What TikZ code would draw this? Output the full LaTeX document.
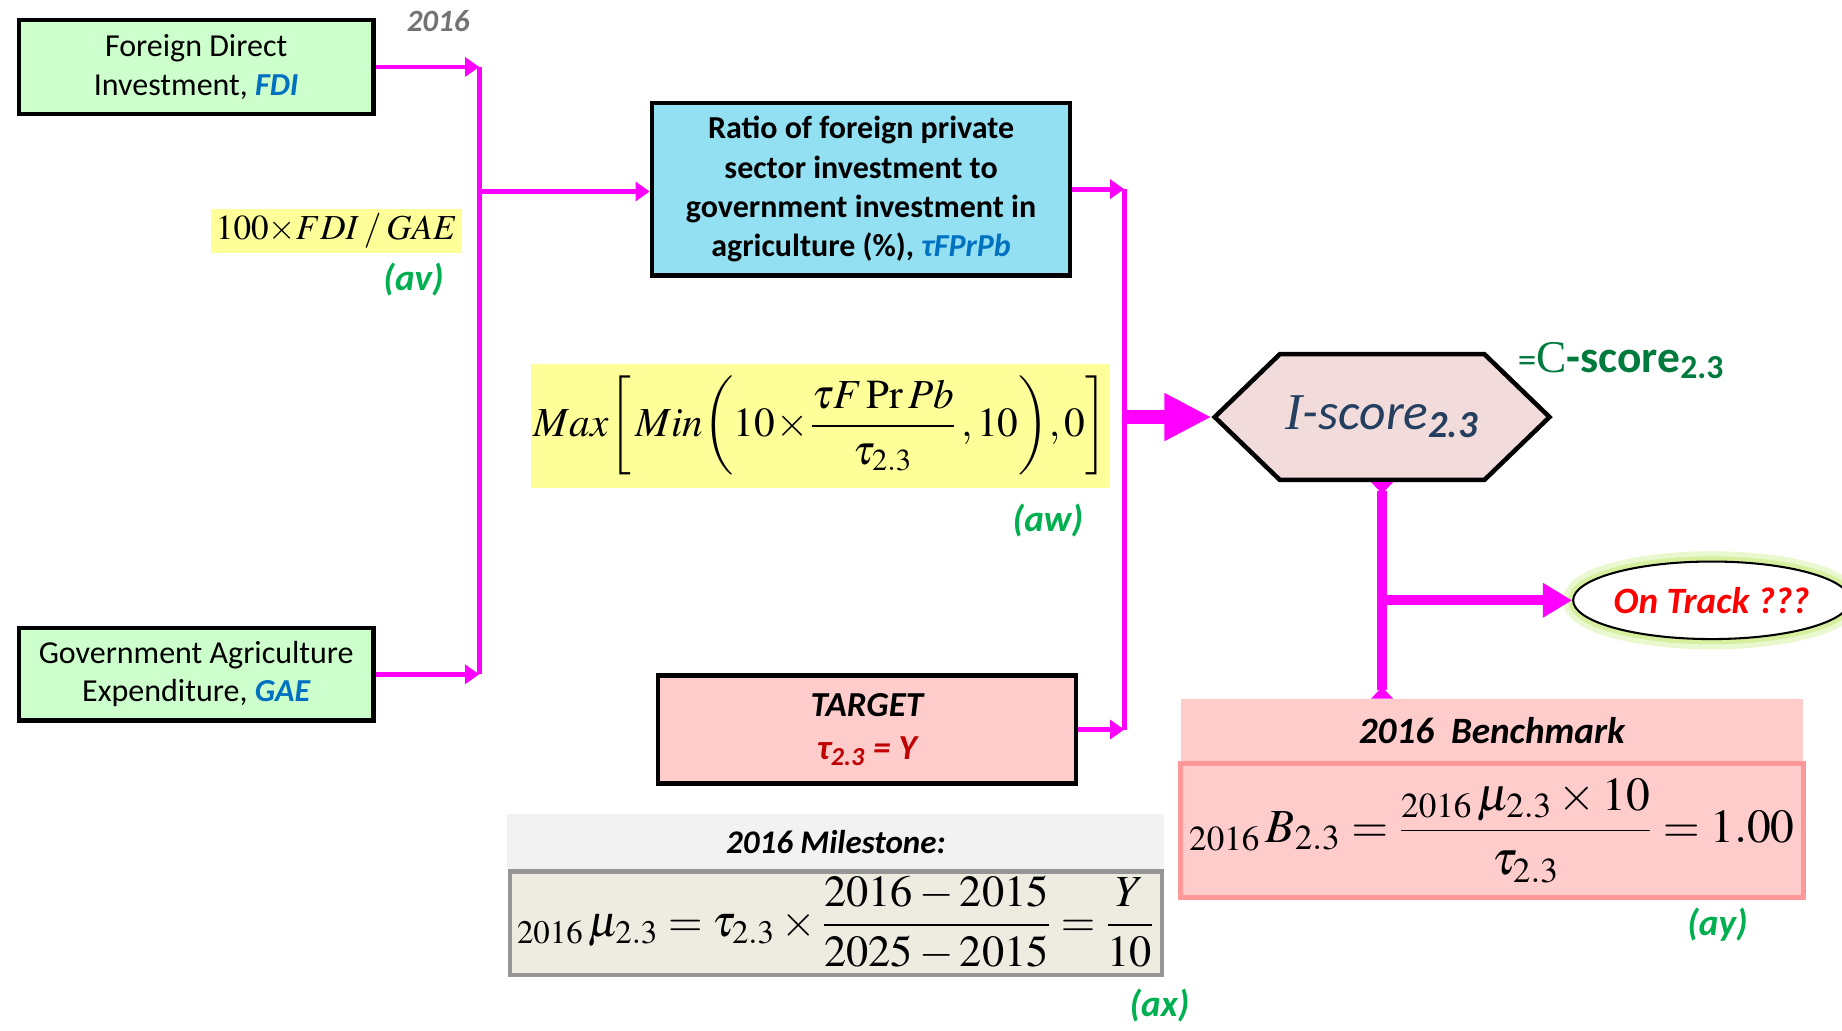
\documentclass[tikz,border=0pt]{standalone}
\usepackage{amsmath}
\usepackage{mathptmx}
\usepackage[no-math]{fontspec}
\setmainfont{Carlito}
\newfontfamily\serifface{Liberation Serif}
\usepackage{xcolor}
\usetikzlibrary{shapes.geometric,shapes.symbols,arrows.meta,calc}

\definecolor{linkpink}{RGB}{255,0,255}
\definecolor{inputgreen}{RGB}{204,255,204}
\definecolor{ratioblue}{RGB}{147,224,243}
\definecolor{formyellow}{RGB}{255,255,153}
\definecolor{hexfill}{RGB}{242,220,219}
\definecolor{pinkbg}{RGB}{255,204,204}
\definecolor{pinkborder}{RGB}{255,153,153}
\definecolor{headgray}{RGB}{242,242,242}
\definecolor{milebg}{RGB}{238,236,225}
\definecolor{milegray}{RGB}{150,150,150}
\definecolor{labgreen}{RGB}{0,176,80}
\definecolor{cgreen}{RGB}{0,122,61}
\definecolor{iblue}{RGB}{36,63,96}
\definecolor{varblue}{RGB}{0,112,192}
\definecolor{tgtred}{RGB}{192,0,0}
\definecolor{glow}{RGB}{214,240,160}

\begin{document}
\begin{tikzpicture}[x=0.2mm,y=-0.2mm,
	box/.style={draw=black, line width=2.2pt, inner sep=0pt, align=center},
	plain/.style={inner sep=0pt, align=center},
	tag/.style={inner sep=0pt, text=labgreen, font=\fontsize{18}{18}\selectfont\bfseries\itshape},
	bus/.style={draw=linkpink, line width=2.3pt},
	busarrow/.style={bus, -{Triangle[length=2.4mm,width=3.2mm]}},
	midline/.style={draw=linkpink, line width=5pt},
	bigarrow/.style={draw=linkpink, line width=7pt, -{Triangle[length=8mm,width=7.6mm]}}]
	\useasboundingbox (0,0) rectangle (1568,877);

	% inputs
	\node[box, fill=inputgreen, minimum width=60.4mm, minimum height=16mm, font=\fontsize{15.5}{18.5}\selectfont] (fdi) at (167,57) {Foreign Direct\\Investment, {\bfseries\itshape\color{varblue}FDI}};
	\node[box, fill=inputgreen, minimum width=60.4mm, minimum height=15.8mm, font=\fontsize{15.5}{18.5}\selectfont] (gae) at (167,574) {Government Agriculture\\Expenditure, {\bfseries\itshape\color{varblue}GAE}};
	\node[plain, text=black!55, font=\fontsize{15}{15}\selectfont\bfseries\itshape] (year) at (373,18) {2016};

	% ratio
	\node[plain, fill=formyellow, minimum width=42.6mm, minimum height=7.4mm, font=\fontsize{17}{17}\selectfont] (ratioform) at (286.5,196.5) {$100{\times}FDI\:/\:GAE$};
	\node[tag] (av) at (352,238) {(av)};
	\node[box, fill=ratioblue, minimum width=71.2mm, minimum height=29.4mm, font=\fontsize{15.5}{19}\selectfont\bfseries] (ratio) at (733,161) {Ratio of foreign private\\sector investment to\\government investment in\\agriculture (\%), {\itshape\color{varblue}τFPrPb}};

	% score formula and target
	\node[plain, fill=formyellow, minimum width=98.6mm, minimum height=21mm, font=\fontsize{20}{20}\selectfont] (scoreform) at (698.5,362.5) {$\displaystyle Max\!\left[\,Min\!\left(10\!\times\!\frac{\tau F\,\mathrm{Pr}\,Pb}{\tau_{2.3}}\,,10\right)\!,0\right]$};
	\node[tag] (aw) at (892,443) {(aw)};
	\node[box, fill=pinkbg, minimum width=71.2mm, minimum height=18.4mm, font=\fontsize{17}{21}\selectfont\bfseries\itshape] (target) at (738,621) {TARGET\\{\color{tgtred}τ\textsubscript{2.3} = Y}};

	% milestone
	\node[plain, fill=headgray, minimum width=111.8mm, minimum height=9.4mm, font=\fontsize{16}{16}\selectfont\bfseries\itshape] (milehead) at (711.5,716.5) {2016 Milestone:};
	\node[plain, draw=milegray, line width=2.2pt, fill=milebg, minimum width=111mm, minimum height=17.6mm, font=\fontsize{21.5}{21.5}\selectfont] (mile) at (711.5,786) {${}_{2016}\,\mu_{2.3}=\tau_{2.3}\times\dfrac{2016-2015}{2025-2015}=\dfrac{Y}{10}$};
	\node[tag] (ax) at (987,856) {(ax)};

	% score
	\node[signal, signal to=west and east, signal pointer angle=88, draw=black, line width=2.2pt, fill=hexfill, inner sep=0pt, minimum width=57mm, minimum height=21.4mm, text=iblue, font=\fontsize{25}{25}\selectfont\itshape] (iscore) at (1176.5,355) {{\serifface I}-score\textsubscript{\bfseries 2.3}};
	\node[plain, text=cgreen, font=\fontsize{22}{22}\selectfont] (cscore) at (1380,307) {{\fontsize{18}{18}\selectfont=}{\serifface C}\textbf{-score\textsubscript{2.3}}};
	\node[ellipse, draw=black, line width=1pt, fill=white, inner sep=0pt, minimum width=44.6mm, minimum height=13.2mm,
		preaction={draw=glow!50, line width=10pt}, preaction={draw=glow, line width=5pt},
		text=red, font=\fontsize{18}{18}\selectfont\bfseries\itshape] (ontrack) at (1457,511) {On Track ???};

	% benchmark
	\node[plain, fill=pinkbg, minimum width=106mm, minimum height=10.6mm, font=\fontsize{18}{18}\selectfont\bfseries\itshape] (benchhead) at (1270,621.5) {2016\ \ Benchmark};
	\node[plain, draw=pinkborder, line width=2.2pt, fill=pinkbg, minimum width=106mm, minimum height=22.8mm, font=\fontsize{23}{23}\selectfont] (bench) at (1270,707) {${}_{2016}\,B_{2.3}=\dfrac{{}_{2016}\,\mu_{2.3}\times10}{\tau_{2.3}}=1.00$};
	\node[tag] (ay) at (1462,787) {(ay)};

	% connectors
	\coordinate (jfdi) at (408,57);
	\coordinate (jgae) at (408,574);
	\coordinate (jratio) at (408,163);
	\coordinate (jr1) at (957,161);
	\coordinate (jr2) at (957,621);
	\draw[bus] (jfdi) -- (jgae);
	\draw[busarrow] (fdi.east) -- (jfdi);
	\draw[busarrow] (gae.east) -- (jgae);
	\draw[busarrow] (jratio) -- (jratio -| ratio.west);
	\draw[bus] (jr1) -- (jr2);
	\draw[busarrow] (ratio.east) -- (jr1);
	\draw[busarrow] (target.east) -- (jr2);
	\draw[bigarrow] (iscore.west -| jr1) -- (iscore.west);
	\draw[midline, {Triangle[reversed,length=2mm,width=3.6mm]}-{Triangle[reversed,length=2mm,width=3.6mm]}] (iscore.south) -- (iscore.south |- benchhead.north);
	\draw[midline, -{Triangle[length=5mm,width=5.6mm]}] (iscore.south |- ontrack.west) -- (ontrack.west);
\end{tikzpicture}
\end{document}
